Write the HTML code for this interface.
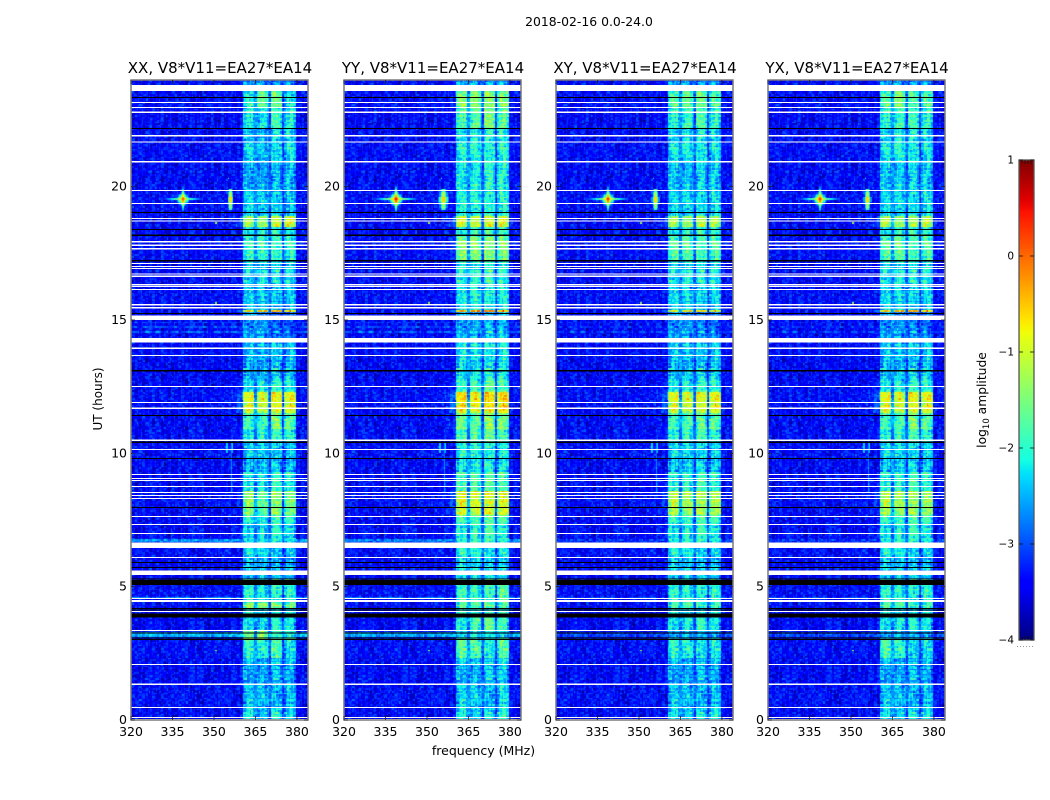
<!DOCTYPE html>
<html lang="en">
<head>
<meta charset="utf-8">
<title>2018-02-16 0.0-24.0 dynamic spectra</title>
<style>
html,body{margin:0;padding:0;background:#fff;width:1050px;height:800px;overflow:hidden}
#stage{position:relative;width:1050px;height:800px}
canvas{position:absolute;display:block}
svg{position:absolute;left:0;top:0}
text{font-family:"DejaVu Sans","Liberation Sans",sans-serif;fill:#000}
</style>
</head>
<body>
<div id="stage">
<svg id="overlay" width="1050" height="800" viewBox="0 0 1050 800">
  <text x="589" y="26" font-size="12.4" text-anchor="middle">2018-02-16 0.0-24.0</text>
  <text x="483.5" y="755" font-size="12.5" text-anchor="middle">frequency (MHz)</text>
  <text x="0" y="0" font-size="12" text-anchor="middle" transform="translate(102,399) rotate(-90)">UT (hours)</text>
  <text x="0" y="0" font-size="12.3" text-anchor="middle" transform="translate(986,400) rotate(-90)">log<tspan font-size="8.5" dy="3">10</tspan><tspan dy="-3"> amplitude</tspan></text>
</svg>
</div>
<script>
/* ---------- shared axis data ---------- */
var panelTitles = ["XX, V8*V11=EA27*EA14","YY, V8*V11=EA27*EA14","XY, V8*V11=EA27*EA14","YX, V8*V11=EA27*EA14"];
var freqTicks = [320,335,350,365,380];
var timeTicks = [0,5,10,15,20];
var colorbarTicks = [1,0,-1,-2,-3,-4];
var freqRange = [320,384];
var timeRange = [0,24];
var levelRange = [-4,1];

/* ---------- flagged (blank) and dead (black) time ranges, UT hours ---------- */
var flaggedRows = [[23.81,23.58],[23.18,23.14],[22.99,22.95],[22.82,22.77],[21.93,21.88],[21.69,21.65],[20.96,20.90],[19.88,19.84],[19.39,19.35],[18.83,18.79],[18.74,18.69],[17.96,17.91],[17.84,17.78],[17.70,17.65],[17.14,17.10],[17.02,16.98],[16.95,16.91],[16.74,16.70],[16.66,16.61],[16.35,16.30],[16.27,16.24],[16.16,16.12],[15.60,15.55],[15.49,15.44],[15.16,15.00],[14.32,14.15],[13.96,13.91],[13.69,13.65],[12.53,12.49],[11.93,11.89],[11.71,11.66],[10.51,10.46],[10.17,10.12],[9.23,9.19],[9.08,9.04],[9.00,8.96],[8.77,8.74],[8.55,8.51],[8.44,8.40],[8.32,8.29],[7.65,7.61],[7.35,7.31],[7.01,6.97],[6.65,6.45],[6.11,6.07],[5.60,5.44],[4.57,4.54],[4.50,4.42],[4.09,4.05],[3.37,3.34],[2.10,2.06],[1.37,1.32],[0.49,0.45],[0.11,0.07],[0.04,0.00]];
var deadRows = [[23.36,23.32],[22.20,22.16],[19.05,19.01],[18.41,18.37],[18.20,18.15],[17.25,17.19],[15.27,15.22],[13.12,13.07],[11.44,11.40],[10.44,10.39],[9.82,9.79],[7.99,7.95],[5.92,5.89],[5.74,5.70],[5.31,5.27],[5.25,5.06],[4.20,4.16],[4.14,4.11],[4.00,3.85],[3.28,3.24],[3.10,3.07],[3.04,3.00]];

/* ---------- spectral sub-bands (MHz) ---------- */
var bandEdges = [[360.4,364.7],[365.6,369.5],[370.3,374.7],[375.4,379.6]];
var bandShape = [-0.2,0.0,0.1,0.12,0.08,-0.02,-0.2];
var backgroundLevel = -3.4;
var gapLevel = -2.85;
var bandLevelOffset = -0.1;
var faintBandOffset = -0.1;

/* ---------- log10 amplitude per time segment for each sub-band ---------- */
var timeEdges = [0,0.5,1.3,2.1,2.35,3.0,3.35,4.0,4.2,4.4,5.3,6.0,6.6,7.3,7.7,8.6,9.3,10.4,10.9,11.5,12.3,12.8,13.1,14.2,15.3,15.38,16.3,17.2,18.1,18.5,18.9,19.9,20.9,22.2,23.0,23.6,24];
var levelsXX = [[-2.0,-2.3,-2.0,-2.2],[-2.3,-2.4,-2.3,-2.3],[-2.4,-2.5,-2.4,-2.4],[-2.3,-2.4,-2.2,-2.3],[-1.9,-2.0,-1.6,-2.1],[-1.5,-1.5,-1.9,-1.9],[-2.0,-2.2,-2.0,-2.0],[-2.1,-2.2,-2.1,-2.2],[-1.3,-1.4,-1.3,-1.5],[-1.9,-2.1,-1.8,-1.9],[-2.3,-2.3,-2.4,-2.4],[-2.1,-2.2,-2.2,-2.3],[-2.1,-2.2,-2.0,-2.1],[-1.9,-2.0,-1.8,-1.9],[-1.4,-1.6,-1.3,-1.5],[-2.0,-2.1,-1.9,-2.0],[-2.3,-2.3,-2.2,-2.3],[-2.0,-2.0,-1.9,-1.9],[-1.7,-1.8,-1.5,-1.6],[-0.95,-1.05,-0.8,-0.85],[-2.1,-2.1,-1.9,-2.0],[-2.3,-2.4,-2.2,-2.2],[-2.4,-2.4,-2.2,-2.3],[-2.8,-2.9,-2.8,-2.9],[-0.6,-0.6,-0.5,-0.5],[-2.3,-2.3,-2.3,-2.3],[-2.1,-2.1,-2.1,-2.1],[-1.9,-1.9,-1.8,-1.9],[-1.9,-2.0,-1.9,-2.0],[-1.2,-1.3,-1.0,-0.9],[-2.2,-2.3,-2.2,-2.3],[-2.4,-2.5,-2.4,-2.3],[-2.2,-2.4,-2.1,-2.1],[-2.0,-2.1,-1.8,-2.0],[-2.0,-1.6,-1.5,-2.1],[-2.6,-2.6,-2.6,-2.6]];
var levelsYY = [[-2.0,-2.2,-2.1,-1.9],[-2.2,-2.3,-2.3,-2.1],[-2.3,-2.4,-2.3,-2.2],[-2.2,-2.2,-2.2,-2.1],[-1.6,-1.7,-1.9,-1.6],[-2.1,-2.1,-2.1,-2.1],[-1.9,-1.7,-1.6,-1.7],[-2.0,-2.0,-2.0,-2.0],[-1.6,-1.7,-1.5,-1.6],[-1.8,-1.9,-1.7,-1.6],[-2.1,-2.1,-2.2,-2.2],[-1.9,-2.0,-2.0,-2.0],[-1.9,-1.9,-1.8,-1.9],[-1.7,-1.7,-1.6,-1.7],[-0.9,-1.0,-0.85,-0.9],[-1.7,-1.7,-1.7,-1.7],[-2.0,-2.0,-1.9,-2.0],[-1.7,-1.7,-1.6,-1.7],[-1.5,-1.6,-1.4,-1.5],[-0.7,-0.8,-0.6,-0.6],[-1.8,-1.8,-1.6,-1.7],[-2.0,-2.0,-1.9,-1.9],[-2.1,-2.1,-2.0,-2.0],[-2.4,-2.4,-2.3,-2.3],[-0.3,-0.3,-0.2,-0.2],[-2.1,-2.0,-2.0,-2.0],[-1.9,-1.9,-1.8,-1.9],[-1.5,-1.5,-1.4,-1.5],[-1.8,-1.8,-1.7,-1.7],[-0.9,-1.0,-0.9,-0.9],[-2.0,-2.0,-1.9,-1.9],[-2.0,-2.0,-1.9,-1.9],[-2.0,-2.0,-1.9,-1.9],[-1.7,-1.6,-1.5,-1.6],[-1.5,-1.5,-1.3,-1.5],[-2.4,-2.4,-2.4,-2.4]];
var levelsXY = [[-2.1,-2.2,-2.1,-2.0],[-2.3,-2.4,-2.3,-2.3],[-2.4,-2.5,-2.4,-2.4],[-2.3,-2.4,-2.3,-2.3],[-1.9,-2.0,-2.0,-2.0],[-2.4,-2.4,-2.4,-2.4],[-2.0,-2.0,-1.9,-2.0],[-2.2,-2.2,-2.2,-2.2],[-1.7,-1.7,-1.7,-1.7],[-1.9,-2.0,-1.9,-1.9],[-2.2,-2.2,-2.3,-2.3],[-2.0,-2.1,-2.1,-2.2],[-2.0,-2.0,-1.9,-2.0],[-1.8,-1.8,-1.7,-1.8],[-1.15,-1.3,-1.15,-1.2],[-1.9,-1.9,-1.8,-1.9],[-2.2,-2.2,-2.1,-2.2],[-1.9,-1.9,-1.8,-1.9],[-1.7,-1.7,-1.6,-1.6],[-0.95,-1.05,-0.9,-0.85],[-2.0,-2.0,-1.9,-1.9],[-2.2,-2.2,-2.1,-2.1],[-2.3,-2.3,-2.2,-2.2],[-2.7,-2.7,-2.6,-2.7],[-0.8,-0.8,-0.7,-0.7],[-2.2,-2.2,-2.2,-2.2],[-2.0,-2.0,-2.0,-2.0],[-1.7,-1.7,-1.7,-1.7],[-1.9,-1.9,-1.8,-1.8],[-1.2,-1.3,-1.1,-1.2],[-2.2,-2.2,-2.1,-2.1],[-2.2,-2.3,-2.2,-2.2],[-2.1,-2.1,-2.0,-2.1],[-1.9,-1.8,-1.7,-1.9],[-1.7,-1.6,-1.5,-1.7],[-2.5,-2.5,-2.5,-2.5]];
var levelsYX = [[-2.1,-2.2,-2.1,-2.1],[-2.3,-2.4,-2.3,-2.3],[-2.4,-2.5,-2.4,-2.4],[-2.3,-2.4,-2.3,-2.3],[-1.7,-1.9,-2.1,-2.1],[-2.4,-2.4,-2.4,-2.4],[-2.0,-2.0,-2.0,-2.0],[-2.2,-2.2,-2.2,-2.2],[-1.6,-1.7,-1.7,-1.7],[-1.9,-2.0,-1.9,-1.9],[-2.2,-2.2,-2.3,-2.3],[-2.0,-2.1,-2.1,-2.2],[-2.0,-2.0,-1.9,-2.0],[-1.8,-1.8,-1.7,-1.8],[-1.2,-1.3,-1.2,-1.3],[-1.9,-1.9,-1.8,-1.9],[-2.2,-2.2,-2.1,-2.2],[-1.9,-1.9,-1.8,-1.9],[-1.7,-1.7,-1.5,-1.6],[-0.9,-1.0,-0.8,-0.85],[-2.0,-2.0,-1.9,-1.9],[-2.2,-2.2,-2.1,-2.1],[-2.3,-2.3,-2.2,-2.2],[-2.7,-2.7,-2.6,-2.7],[-0.5,-0.5,-0.4,-0.4],[-2.2,-2.2,-2.2,-2.2],[-2.0,-2.0,-2.0,-2.0],[-1.7,-1.6,-1.7,-1.7],[-1.9,-1.9,-1.8,-1.8],[-1.1,-1.3,-1.2,-1.1],[-2.2,-2.2,-2.1,-2.1],[-2.2,-2.2,-2.2,-2.2],[-2.1,-2.0,-2.0,-2.1],[-1.9,-1.8,-1.8,-1.9],[-1.7,-1.5,-1.6,-1.7],[-2.5,-2.5,-2.5,-2.5]];

/* ---------- broadband rows: start hour, end hour, level per panel XX,YY,XY,YX ---------- */
var broadbandRows = [[3.12,3.32,-2.55,-2.6,-3.1,-3.1],[6.66,6.76,-2.7,-2.8,-3.2,-3.2],[4.57,4.62,-2.7,-2.8,-3.1,-3.1],[14.72,14.77,-3.0,-3.05,-3.2,-3.2],[14.52,14.56,-3.0,-3.05,-3.2,-3.2],[14.88,14.92,-3.05,-3.1,-3.2,-3.2]];

/* ---------- isolated interference: freq MHz, UT hour, peak log10 level, XX,YY,XY,YX ---------- */
var crossSources = [[338.8,19.53,0.1,0.45,0.3,0.25]];
var lineSources = [[356.0,19.53,0.0,-0.2,-0.1,-0.1]];
var lineSourceWidths = [0.5,0.85,0.6,0.6];
var specks = [[330,2.6,-1.5],[350.9,2.6,-1.4],[350.9,15.6,-1.3],[350.9,18.6,-1.2],[330,18.6,-1.3],[350.5,19.65,-1.4],[336.4,21.3,-2.1],[355.2,20.3,-1.9]];
var faintVerticals = [[356.3,8.5,10.5,-2.7],[354.6,10.0,10.4,-2.4],[356.8,10.0,10.4,-2.4]];

/* ---------- fixed read-off pixel speckle, log10 offsets ---------- */
var grainA = [0.12,-0.18,0.05,0.22,-0.09,-0.24,0.16,0.02,-0.13,0.27,-0.05,0.09,-0.2,0.18,-0.02,-0.28,0.11,0.24,-0.15,0.04,-0.07,0.2,-0.22,0.07,0.14,-0.11,-0.03,0.26,-0.17,0.01,0.1];
var grainB = [-0.1,0.15,-0.19,0.03,0.2,-0.06,0.11,-0.25,0.08,0.23,-0.14,-0.01,0.17,-0.21,0.06,0.13,-0.08,0.25,-0.16,0.0,0.19,-0.12,0.09,-0.04,-0.23,0.16,0.04,-0.18,0.12];
var rowOffsets = [0.04,-0.08,0.1,-0.02,0.14,-0.12,0.02,0.07,-0.15,0.11,-0.05,0.0,0.16,-0.1,0.05,-0.04,0.12,-0.13,0.08,-0.06,0.03,0.13,-0.09];
var channelOffsets = [0.06,-0.1,0.12,-0.04,-0.14,0.09,0.03,-0.08,0.15,-0.12,0.0,0.1,-0.06,0.13,-0.15,0.05,-0.02];

/* ---------- layout ---------- */
var panelLefts = [131,344,556,768];
var panelWidth = 177;
var panelTop = 80;
var panelBottom = 720;
var panelLevels = [levelsXX,levelsYY,levelsXY,levelsYX];
var panelKeys = ["xx","yy","xy","yx"];
var channelStep = 0.5;
var timeStep = 0.06;

function jet(t){
  t=Math.max(0,Math.min(1,t));
  function seg(pts){
    for(var i=1;i<pts.length;i++){
      if(t<=pts[i][0]){
        var a=pts[i-1],b=pts[i];
        return a[1]+(b[1]-a[1])*(t-a[0])/(b[0]-a[0]);
      }
    }
    return pts[pts.length-1][1];
  }
  return [
    Math.round(255*seg([[0,0],[0.35,0],[0.66,1],[0.89,1],[1,0.5]])),
    Math.round(255*seg([[0,0],[0.125,0],[0.375,1],[0.64,1],[0.91,0],[1,0]])),
    Math.round(255*seg([[0,0.5],[0.11,1],[0.34,1],[0.65,0],[1,0]]))
  ];
}
function colorOf(level){
  var c=jet((level-levelRange[0])/(levelRange[1]-levelRange[0]));
  return "rgb("+c[0]+","+c[1]+","+c[2]+")";
}
function segmentIndex(h){
  for(var i=0;i<timeEdges.length-1;i++){ if(h<timeEdges[i+1]) return i; }
  return timeEdges.length-2;
}
function cellLevel(p,f,h,c,r){
  var grain=grainA[(c*c+r*7)%grainA.length]+grainB[(r*r+c*3)%grainB.length];
  var rowJ=rowOffsets[r%rowOffsets.length];
  var seg=panelLevels[p][segmentIndex(h)];
  var v=backgroundLevel;
  var inBand=false;
  var i;
  for(i=0;i<broadbandRows.length;i++){
    var s=broadbandRows[i];
    if(h>=s[0]&&h<s[1]) v=Math.max(v,s[2+p]);
  }
  var meanBand=(seg[0]+seg[1]+seg[2]+seg[3])/4;
  if(f>=355.5&&f<bandEdges[0][0]&&meanBand>-1.6){
    v=Math.max(v,backgroundLevel+(meanBand+2.0)*0.45*(f-355.5)/4.9);
  }
  if(f>=bandEdges[0][0]&&f<=bandEdges[3][1]){
    v=Math.max(v,gapLevel+(f<370?0.2:-0.2));
    for(i=0;i<4;i++){
      var e=bandEdges[i];
      if(f>=e[0]&&f<e[1]){
        var q=Math.floor((f-e[0])/(e[1]-e[0])*bandShape.length);
        var base=seg[i]+(seg[i]<-1.5?faintBandOffset:0);
        v=Math.max(v,base+bandShape[q]+bandLevelOffset+channelOffsets[c%channelOffsets.length]*0.6);
        inBand=true;
      }
    }
  }
  v+=grain*(inBand?1.25:1.1)+rowJ*(inBand?1.2:0.1);
  for(i=0;i<crossSources.length;i++){
    var cs=crossSources[i],pk=cs[2+p];
    var df=Math.abs(f-cs[0]),dt=Math.abs(h-cs[1]);
    var hArm=dt<0.04?pk-1.1-df*0.33:-9;
    var vArm=df<0.4?pk-dt*7:-9;
    var blob=pk-df*1.1-dt*9;
    v=Math.max(v,hArm,vArm,blob);
  }
  for(i=0;i<lineSources.length;i++){
    var ls=lineSources[i],w=lineSourceWidths[p];
    var dlf=Math.abs(f-ls[0]),dlt=Math.abs(h-ls[1]);
    if(dlf<w*2.4&&dlt<0.4){
      var core=ls[2+p]-dlt*3.5-dlf/w*1.2;
      v=Math.max(v,core+rowJ*2);
    }
  }
  for(i=0;i<faintVerticals.length;i++){
    var fv=faintVerticals[i];
    if(Math.abs(f-fv[0])<0.25&&h>=fv[1]&&h<fv[2]) v=Math.max(v,fv[3]+grain*0.5);
  }
  for(i=0;i<specks.length;i++){
    var sp=specks[i];
    if(Math.abs(f-sp[0])<0.25&&Math.abs(h-sp[1])<0.03) v=Math.max(v,sp[2]);
  }
  return v;
}

var svgNS="http://www.w3.org/2000/svg";
var overlay=document.getElementById("overlay");
var stage=document.getElementById("stage");
function yScale(h){
  return panelBottom-(h-timeRange[0])/(timeRange[1]-timeRange[0])*(panelBottom-panelTop);
}
function xScaleFor(left){
  return function(f){return left+(f-freqRange[0])/(freqRange[1]-freqRange[0])*panelWidth;};
}
function svgEl(tag,attrs,parent){
  var el=document.createElementNS(svgNS,tag);
  for(var k in attrs){el.setAttribute(k,attrs[k]);}
  parent.appendChild(el);
  return el;
}

panelTitles.forEach(function(title,p){
  var left=panelLefts[p];
  var xScale=xScaleFor(left);
  var key=panelKeys[p];

  /* heatmap */
  var cv=document.createElement("canvas");
  
  
  cv.width=1050;cv.height=800;
  cv.style.left="0";cv.style.top="0";
  stage.insertBefore(cv,overlay);
  var ctx=cv.getContext("2d");
  var nc=Math.round((freqRange[1]-freqRange[0])/channelStep);
  var nr=Math.round((timeRange[1]-timeRange[0])/timeStep);
  for(var r=0;r<nr;r++){
    var h0=r*timeStep,h1=(r+1)*timeStep;
    var y0=Math.round(yScale(h1)),y1=Math.round(yScale(h0));
    for(var c=0;c<nc;c++){
      var f0=freqRange[0]+c*channelStep;
      var x0=Math.round(xScale(f0)),x1=Math.round(xScale(f0+channelStep));
      ctx.fillStyle=colorOf(cellLevel(p,f0+channelStep/2,h0+timeStep/2,c,r));
      ctx.fillRect(x0,y0,x1-x0,y1-y0);
    }
  }

  var g=svgEl("g",{},overlay);
  
  

  /* flagged rows */
  flaggedRows.forEach(function(fr){
    var rect=svgEl("rect",{x:left,y:yScale(fr[0]),width:panelWidth,height:Math.max(1,yScale(fr[1])-yScale(fr[0])),fill:"#fff","shape-rendering":"crispEdges"},g);
    
    
  });
  deadRows.forEach(function(dr){
    var rect=svgEl("rect",{x:left,y:yScale(dr[0]),width:panelWidth,height:Math.max(1,yScale(dr[1])-yScale(dr[0])),fill:"#000","shape-rendering":"crispEdges"},g);
    
    
  });

  /* frame */
  var frame=svgEl("rect",{x:left,y:panelTop,width:panelWidth,height:panelBottom-panelTop,fill:"none",stroke:"#7a7a7a","stroke-width":1.5},g);
  
  

  /* title */
  var t=svgEl("text",{x:left+panelWidth/2+0.5,y:73,"font-size":"15","text-anchor":"middle"},g);
  t.textContent=title;
  
  

  /* x ticks */
  freqTicks.forEach(function(v){
    var x=xScale(v);
    var t1=svgEl("line",{x1:x,x2:x,y1:panelBottom,y2:panelBottom-4,stroke:"#222","stroke-width":0.8},g);
    
    
    var t2=svgEl("line",{x1:x,x2:x,y1:panelTop,y2:panelTop+4,stroke:"#222","stroke-width":0.8},g);
    
    
    var lab=svgEl("text",{x:x,y:736,"font-size":"12.5","text-anchor":"middle"},g);
    lab.textContent=String(v);
    
    
  });

  /* y ticks */
  timeTicks.forEach(function(v){
    var y=yScale(v);
    var t1=svgEl("line",{x1:left,x2:left+4,y1:y,y2:y,stroke:"#222","stroke-width":0.8},g);
    
    
    var t2=svgEl("line",{x1:left+panelWidth,x2:left+panelWidth-4,y1:y,y2:y,stroke:"#222","stroke-width":0.8},g);
    
    
    var lab=svgEl("text",{x:left-4,y:y+4,"font-size":"12.5","text-anchor":"end"},g);
    lab.textContent=String(v);
    
    
  });
});

/* ---------- colorbar ---------- */
(function(){
  var cbLeft=1019,cbRight=1034,cbTop=160,cbBottom=640;
  function cbScale(v){
    return cbBottom-(v-levelRange[0])/(levelRange[1]-levelRange[0])*(cbBottom-cbTop);
  }
  var g=svgEl("g",{},overlay);
  
  
  var defs=svgEl("defs",{},g);
  var grad=svgEl("linearGradient",{id:"jet-gradient",x1:0,y1:1,x2:0,y2:0},defs);
  var stops=64;
  for(var i=0;i<=stops;i++){
    var c=jet(i/stops);
    svgEl("stop",{offset:(i/stops),"stop-color":"rgb("+c[0]+","+c[1]+","+c[2]+")"},grad);
  }
  var bar=svgEl("rect",{x:cbLeft,y:cbTop,width:cbRight-cbLeft,height:cbBottom-cbTop,fill:"url(#jet-gradient)"},g);
  
  
  var edge=svgEl("rect",{x:cbLeft,y:cbTop,width:cbRight-cbLeft,height:cbBottom-cbTop,fill:"none",stroke:"#555","stroke-width":1.3},g);
  
  
  colorbarTicks.forEach(function(v){
    var y=cbScale(v);
    var t1=svgEl("line",{x1:cbLeft,x2:cbLeft+4,y1:y,y2:y,stroke:"#111","stroke-width":0.8},g);
    
    
    var t2=svgEl("line",{x1:cbRight,x2:cbRight-4,y1:y,y2:y,stroke:"#111","stroke-width":0.8},g);
    
    
    var lab=svgEl("text",{x:1014,y:y+3.5,"font-size":"10.5","text-anchor":"end"},g);
    lab.textContent=(v<0?"\u2212"+Math.abs(v):String(v));
    
    
  });
  [1022,1025,1028,1031].forEach(function(x){
    var a=svgEl("line",{x1:x,x2:x,y1:cbTop,y2:cbTop+4,stroke:"#111","stroke-width":0.7},g);
    
    
    var b=svgEl("line",{x1:x,x2:x,y1:cbBottom,y2:cbBottom-4,stroke:"#111","stroke-width":0.7},g);
    
    
  });
  var dots=svgEl("line",{x1:1017,x2:1035,y1:646.5,y2:646.5,stroke:"#999","stroke-width":1,"stroke-dasharray":"1 2"},g);
  
  
})();
</script>
</body>
</html>
